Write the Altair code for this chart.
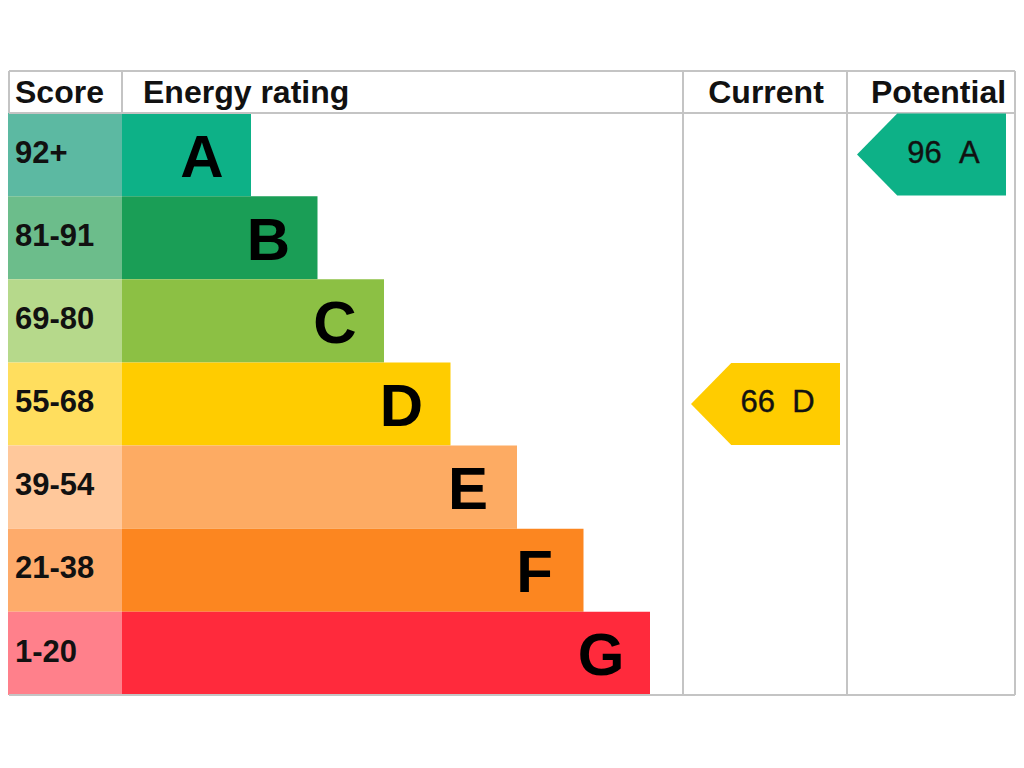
import altair as alt
import pandas as pd

# ---------------- data ----------------
bands = ["A", "B", "C", "D", "E", "F", "G"]
score_ranges = ["92+", "81-91", "69-80", "55-68", "39-54", "21-38", "1-20"]
bar_colors = ["#0db187", "#1a9e56", "#8cc044", "#ffcc00", "#fdab63", "#fc8620", "#ff2a3c"]
score_colors = ["#5cb9a2", "#6cbd8b", "#b6d98b", "#ffde5e", "#ffc89b", "#feab6b", "#ff808b"]
header_labels = ["Score", "Energy rating", "Current", "Potential"]
current_score, current_band = 66, "D"
potential_score, potential_band = 96, "A"

# ---------------- layout (style) ----------------
LEFT, COL1, COL2, COL3, RIGHT = 0, 122, 683, 847, 1022
TOP, HEAD, BOTTOM = 71, 113, 695
ROW = (BOTTOM - HEAD) / len(bands)
BAR_BASE, BAR_STEP = 62.5, 66.5
GRID = "#c4c4c4"
FONT = "Liberation Sans"
TXT = "#111111"

rows = pd.DataFrame({
    "band": bands,
    "score": score_ranges,
    "bar_color": bar_colors,
    "score_color": score_colors,
})
rows["idx"] = range(len(bands))
rows["y0"] = HEAD + rows["idx"] * ROW
rows["y1"] = rows["y0"] + ROW
rows["yc"] = rows["y0"] + ROW / 2
rows["x0"] = LEFT
rows["c1"] = COL1
rows["bar_end"] = COL1 + BAR_BASE + BAR_STEP * (rows["idx"] + 1)
rows["letter_x"] = rows["bar_end"] - 49
rows["letter_y"] = rows["yc"] + 0.716 * 60 / 2 + 0.5
rows["score_x"] = 15
rows["score_y"] = rows["yc"] + 0.716 * 31 / 2 - 3

xs = alt.Scale(domain=[8, 1016], nice=False, zero=False)
ys = alt.Scale(domain=[8, 720], nice=False, zero=False, reverse=True)

def X(f):
    return alt.X(f, type="quantitative", scale=xs, axis=None)

def Y(f):
    return alt.Y(f, type="quantitative", scale=ys, axis=None)

base = alt.Chart(rows)

cells = base.mark_rect().encode(
    x=X("x0"), x2="c1", y=Y("y0"), y2="y1",
    color=alt.Color("score_color:N", scale=None),
)
bars = base.mark_rect().encode(
    x=X("c1"), x2="bar_end", y=Y("y0"), y2="y1",
    color=alt.Color("bar_color:N", scale=None),
)

R_DRAW = min(RIGHT, 1015)
lines = pd.DataFrame([
    {"x": LEFT + 9, "x2": R_DRAW, "y": TOP, "y2": TOP},
    {"x": LEFT + 9, "x2": R_DRAW, "y": HEAD, "y2": HEAD},
    {"x": LEFT + 9, "x2": R_DRAW, "y": BOTTOM, "y2": BOTTOM},
    {"x": LEFT + 9, "x2": LEFT + 9, "y": TOP, "y2": HEAD},
    {"x": COL1, "x2": COL1, "y": TOP, "y2": HEAD},
    {"x": COL2, "x2": COL2, "y": TOP, "y2": BOTTOM},
    {"x": COL3, "x2": COL3, "y": TOP, "y2": BOTTOM},
    {"x": R_DRAW, "x2": R_DRAW, "y": TOP, "y2": BOTTOM},
])
rules = alt.Chart(lines).mark_rule(color=GRID, strokeWidth=2).encode(
    x=X("x"), x2="x2", y=Y("y"), y2="y2"
)

hdr = pd.DataFrame({
    "label": header_labels,
    "x": [15, 143, (COL2 + COL3) / 2 + 1, (COL3 + RIGHT) / 2 + 4],
    "align": ["left", "left", "center", "center"],
})
hdr["y"] = (TOP + HEAD) / 2 + 0.716 * 32 / 2
hdr_left = alt.Chart(hdr[hdr["align"] == "left"]).mark_text(
    align="left", baseline="alphabetic", font=FONT, fontSize=32, fontWeight="bold", color=TXT
).encode(x=X("x"), y=Y("y"), text="label:N")
hdr_center = alt.Chart(hdr[hdr["align"] == "center"]).mark_text(
    align="center", baseline="alphabetic", font=FONT, fontSize=32, fontWeight="bold", color=TXT
).encode(x=X("x"), y=Y("y"), text="label:N")

score_text = base.mark_text(
    align="left", baseline="alphabetic", font=FONT, fontSize=31, fontWeight="bold", color=TXT
).encode(x=X("score_x"), y=Y("score_y"), text="score:N")

letters = base.mark_text(
    align="center", baseline="alphabetic", font=FONT, fontSize=60, fontWeight="bold", color="#000000"
).encode(x=X("letter_x"), y=Y("letter_y"), text="band:N")

# arrows for current / potential
ARROW_W = 149
arr = pd.DataFrame({
    "score": [current_score, potential_score],
    "band": [current_band, potential_band],
    "col_left": [COL2, COL3],
    "pad": [8, 10],
})
arr["idx"] = arr["band"].map({b: i for i, b in enumerate(bands)})
arr["color"] = arr["idx"].map(lambda i: bar_colors[i])
arr["xc"] = arr["col_left"] + arr["pad"] + ARROW_W / 2
arr["yc"] = HEAD + arr["idx"] * ROW + ROW / 2
arr["tx"] = arr["xc"] + 12
arr["ty"] = arr["yc"] + 0.716 * 31 / 2 - 3
arr["label"] = arr["score"].astype(str) + "\u00a0\u00a0" + arr["band"]

shape = "M-1,0L-0.46,-0.55L1,-0.55L1,0.55L-0.46,0.55Z"
arrows = alt.Chart(arr).mark_point(
    shape=shape, filled=True, size=ARROW_W ** 2, opacity=1, strokeWidth=0
).encode(x=X("xc"), y=Y("yc"), color=alt.Color("color:N", scale=None))
arrow_text = alt.Chart(arr).mark_text(
    align="center", baseline="alphabetic", font=FONT, fontSize=31, color=TXT,
    stroke=TXT, strokeWidth=0.4
).encode(x=X("tx"), y=Y("ty"), text="label:N")

chart = alt.layer(
    cells, bars, rules, hdr_left, hdr_center, score_text, letters, arrows, arrow_text
).properties(
    width=1008, height=712, padding=0,
    autosize=alt.AutoSizeParams(type="none"),
    background="white",
).configure_view(strokeWidth=0)

chart.save("out.html", embed_options={"renderer": "svg", "actions": False})
